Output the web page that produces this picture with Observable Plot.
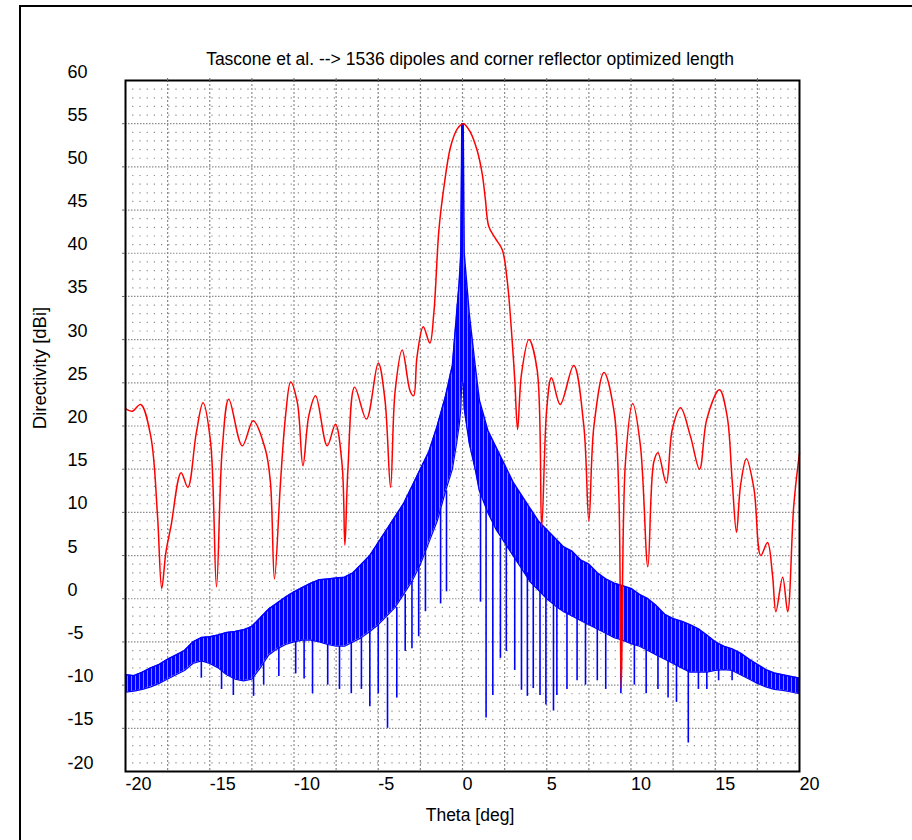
<!DOCTYPE html>
<html>
<head>
<meta charset="utf-8">
<script src="https://cdn.jsdelivr.net/npm/d3@7"></script>
<script src="https://cdn.jsdelivr.net/npm/@observablehq/plot@0.6"></script>
<style>
  html, body { margin: 0; padding: 0; background: #fff; }
  body { width: 912px; height: 840px; position: relative; overflow: hidden; font-family: "Liberation Sans", Arial, sans-serif; }
  #outer { position: absolute; left: 19px; top: 5px; width: 1000px; height: 1000px; border-left: 2px solid #000; border-top: 2px solid #000; }
  #chart { position: absolute; left: 0; top: 0; }
  .lbl { position: absolute; color: #000; white-space: nowrap; }
  #title { left: 0; width: 940px; top: 49px; text-align: center; font-size: 17.5px; }
  #xlabel { left: 0; width: 940px; top: 805px; text-align: center; font-size: 17.5px; }
  #ylabel { left: 40px; top: 368px; font-size: 18.5px; transform: translate(-50%, -50%) rotate(-90deg); }
</style>
</head>
<body>
<div id="outer"></div>
<div id="chart"></div>
<div class="lbl" id="title">Tascone et al. --&gt; 1536 dipoles and corner reflector optimized length</div>
<div class="lbl" id="xlabel">Theta [deg]</div>
<div class="lbl" id="ylabel">Directivity [dBi]</div>
<script>
// Tick labels
const xTicks = [-20, -15, -10, -5, 0, 5, 10, 15, 20];
const yTicks = [-20, -15, -10, -5, 0, 5, 10, 15, 20, 25, 30, 35, 40, 45, 50, 55, 60];
const xGrid = [-17.5, -15, -12.5, -10, -7.5, -5, -2.5, 0, 2.5, 5, 7.5, 10, 12.5, 15, 17.5];
const yMinor = [-19,-18,-17,-16,-14,-13,-12,-11,-9,-8,-7,-6,-4,-3,-2,-1,1,2,3,4,6,7,8,9,11,12,13,14,16,17,18,19,21,22,23,24,26,27,28,29,31,32,33,34,36,37,38,39,41,42,43,44,46,47,48,49,51,52,53,54,56,57,58,59];
const yMajor = [-15, -10, -5, 0, 5, 10, 15, 20, 25, 30, 35, 40, 45, 50, 55];

// Red series: corner reflector optimized length (theta deg, directivity dBi)
const redTheta = [-20.0,-19.6,-19.1,-18.5,-18.1,-17.85,-17.6,-17.3,-16.7,-16.3,-15.8,-15.4,-14.95,-14.6,-14.26,-13.87,-13.07,-12.42,-11.7,-11.4,-11.16,-10.8,-10.5,-10.2,-9.8,-9.47,-9.12,-8.72,-8.03,-7.54,-7.14,-6.98,-6.8,-6.4,-5.7,-5.0,-4.6,-4.27,-4.0,-3.58,-3.1,-2.9,-2.7,-2.33,-1.94,-1.7,-1.4,-1.1,-0.71,-0.31,0.05,0.47,0.87,1.17,1.36,1.56,1.96,2.36,2.65,2.9,3.1,3.27,3.5,3.94,4.43,4.7,5.0,5.28,5.8,6.6,7.2,7.5,7.8,8.4,9.0,9.28,9.42,9.67,10.1,10.56,11.0,11.35,11.6,12.09,12.45,12.94,13.53,14.07,14.5,15.25,15.7,16.0,16.26,16.5,16.85,17.3,17.7,18.1,18.4,18.6,19.0,19.3,19.66,20.0];
const redDir = [22.0,21.7,22.5,18.8,9.6,1.2,5.4,8.4,14.6,12.9,19.2,22.7,18.1,1.4,17.3,23.1,17.7,20.6,17.3,13.5,2.3,13.5,21.2,25.1,22.7,15.4,21.2,23.5,17.7,20.2,15.4,6.2,15.0,24.5,20.8,27.3,23.0,12.9,24.0,28.8,24.0,23.5,28.0,31.5,29.6,33.1,42.7,47.7,52.3,54.4,55.0,54.0,51.9,49.2,46.2,43.1,41.7,40.4,36.9,31.2,25.4,19.6,26.0,30.0,26.5,8.3,22.0,25.6,22.5,27.0,20.0,9.0,20.0,26.2,21.6,11.9,-10.4,15.8,22.6,17.7,3.7,15.8,16.9,13.4,19.6,22.1,18.8,15.0,20.8,24.2,21.2,13.8,7.7,13.1,16.2,12.7,5.0,6.5,2.7,-1.5,2.5,-1.5,10.8,16.9];

// Blue series: band envelope (upper / lower) of the dense pattern
const blueTheta = [-20,-19.5,-19,-18.5,-18,-17.5,-17,-16.5,-16,-15.5,-15,-14.5,-14,-13.5,-13,-12.5,-12,-11.5,-11,-10.5,-10,-9.5,-9,-8.5,-8,-7.5,-7,-6.5,-6,-5.5,-5,-4.5,-4,-3.5,-3,-2.5,-2,-1.5,-1,-0.6,-0.35,-0.2,-0.1,-0.04,0.04,0.1,0.25,0.4,0.75,1,1.5,2,2.5,3,3.5,4,4.5,5,5.5,6,6.5,7,7.5,8,8.5,9,9.5,10,10.5,11,11.5,12,12.5,13,13.5,14,14.5,15,15.5,16,16.5,17,17.5,18,18.5,19,19.5,20];
const blueHi = [-8.8,-8.9,-8.5,-8.0,-7.6,-7.0,-6.5,-6.0,-5.0,-4.5,-4.4,-4.2,-3.9,-3.8,-3.6,-3.2,-2.2,-1.2,-0.5,0.2,0.8,1.3,1.8,2.2,2.3,2.4,2.5,3.0,4.0,5.0,6.5,8.0,9.5,11.0,13.0,15.0,17.0,20.0,23.5,27.0,33.0,36.5,40.0,55.0,55.0,40.0,36.5,33.0,27.0,23.0,19.5,17.5,15.5,13.5,12.0,10.5,9.0,8.0,7.0,6.0,5.5,4.5,4.0,3.0,2.3,1.8,1.5,1.2,0.5,0.0,-0.8,-1.8,-2.3,-2.6,-3.0,-3.5,-4.2,-5.0,-5.5,-5.8,-6.3,-7.0,-7.6,-8.2,-8.6,-8.8,-9.0,-9.2];
const blueLo = [-10.8,-10.7,-10.5,-10.2,-9.8,-9.3,-8.8,-8.3,-7.5,-7.2,-7.5,-8.0,-8.8,-9.3,-9.5,-9.3,-8.0,-6.5,-5.8,-5.3,-5.0,-4.8,-4.8,-5.0,-5.3,-5.5,-5.5,-5.0,-4.5,-3.8,-3.0,-2.0,-1.0,0.5,2.0,4.0,6.5,9.0,12.5,15.0,18.0,20.0,22.0,25.0,25.0,22.0,20.0,18.0,15.0,12.5,10.0,8.0,6.5,5.0,3.5,2.0,1.0,0.0,-0.8,-1.5,-2.0,-2.5,-3.0,-3.5,-4.0,-4.5,-4.8,-5.2,-5.5,-6.0,-6.5,-7.0,-7.5,-8.0,-8.5,-8.5,-8.5,-8.3,-8.2,-8.3,-8.8,-9.3,-9.8,-10.2,-10.5,-10.6,-10.8,-11.0];

// Blue deep nulls (spikes below the band)
const spikeTheta = [-15.5,-14.3,-13.6,-12.4,-11.8,-10.9,-9.9,-9.4,-8.9,-8.0,-7.3,-6.6,-6.0,-5.5,-5.0,-4.45,-3.9,-3.4,-3.0,-2.6,-2.2,-1.3,-0.95,1.07,1.4,1.8,2.25,2.6,3.1,3.5,3.85,4.2,4.6,4.95,5.4,5.6,6.2,6.8,7.3,8.0,8.5,9.4,10.2,10.9,11.6,12.2,12.7,13.4,14.0,14.5,15.2,16.0];
const spikeLow = [-9.2,-10.5,-11.2,-11.3,-10,-9,-8.7,-9.3,-11,-10,-10.5,-11,-10.5,-12.5,-11,-15,-11.5,-6.1,-5.8,-4.4,-1.5,-0.6,0.8,-0.4,-13.8,-11.2,-6.9,-6.1,-8.3,-10.6,-11.3,-10.4,-11.2,-12.3,-13,-11.2,-10.5,-9.5,-10,-9.5,-10.5,-11,-10,-11,-10.5,-11.5,-12,-16.7,-10.5,-10.5,-9.5,-9.5];
const spikeTop = [-7.2,-8.2,-9,-9,-7.5,-5.6,-5,-4.8,-4.8,-5.3,-5.5,-5,-4.5,-3.8,-3,-2.2,-1,0.5,2,4,6,10.5,12.5,12.5,11,9.5,7,6.5,5,3.5,3,2,1,0,-0.5,-1,-1.6,-2.3,-2.7,-3.5,-4,-4.7,-5.3,-6,-6.6,-7.2,-7.5,-8.2,-8.5,-8.5,-8.2,-8.3];

const red = redTheta.map((t, i) => ({theta: t, d: redDir[i]}));
const blue = blueTheta.map((t, i) => ({theta: t, hi: blueHi[i], lo: blueLo[i]}));
const spikes = spikeTheta.map((t, i) => ({theta: t, lo: spikeLow[i], top: spikeTop[i]}));
const fmt = d => String(d);

const chart = Plot.plot({
  width: 912,
  height: 840,
  marginLeft: 125,
  marginRight: 113,
  marginTop: 80,
  marginBottom: 69,
  x: {domain: [-20, 20], label: null},
  y: {domain: [-20, 60], label: null},
  style: {fontFamily: "'Liberation Sans', Arial, sans-serif", fontSize: "18px", background: "transparent", color: "#000", overflow: "visible"},
  marks: [
    Plot.ruleY(yMinor, {stroke: "#8c8c8c", strokeDasharray: "1.2,6", strokeWidth: 1.2}),
    Plot.ruleY(yMajor, {stroke: "#8c8c8c", strokeDasharray: "1.5,1.5", strokeWidth: 1.2}),
    Plot.ruleX(xGrid, {stroke: "#8c8c8c", strokeDasharray: "2,2", strokeWidth: 1.2}),
    Plot.areaY(blue, {x: "theta", y1: "lo", y2: "hi", fill: "url(#bluestripes)", curve: "linear"}),
    Plot.line(blue, {x: "theta", y: "hi", stroke: "#0000ff", strokeWidth: 1.5}),
    Plot.line(blue, {x: "theta", y: "lo", stroke: "#0000ff", strokeWidth: 1.2}),
    Plot.ruleX(spikes, {x: "theta", y1: "lo", y2: "top", stroke: "#0000ff", strokeWidth: 1.6}),
    Plot.line(red, {x: "theta", y: "d", stroke: "#ff0000", strokeWidth: 1.5, curve: "catmull-rom"}),
    Plot.frame({stroke: "#000", strokeWidth: 2}),
    Plot.axisX(xGrid, {anchor: "top", tickSize: 3, tickFormat: () => "", stroke: "#666", label: null}),
    Plot.axisY(yMajor, {anchor: "left", tickSize: 3, tickFormat: () => "", stroke: "#666", label: null}),
    Plot.axisX(xTicks, {anchor: "bottom", tickSize: 0, tickPadding: 6, textAnchor: "start", lineAnchor: "top", tickFormat: fmt, fontSize: 18, label: null}),
    Plot.axisY(yTicks, {anchor: "left", tickSize: 0, tickPadding: 0, textAnchor: "start", lineAnchor: "bottom", dx: -58, dy: -3, tickFormat: fmt, fontSize: 18, label: null})
  ]
});
// stripe texture for the dense blue pattern
const ns = "http://www.w3.org/2000/svg";
const defs = document.createElementNS(ns, "defs");
const pat = document.createElementNS(ns, "pattern");
pat.setAttribute("id", "bluestripes");
pat.setAttribute("width", "4");
pat.setAttribute("height", "20");
pat.setAttribute("patternUnits", "userSpaceOnUse");
const r1 = document.createElementNS(ns, "rect");
r1.setAttribute("width", "4"); r1.setAttribute("height", "20"); r1.setAttribute("fill", "#0000ff");
const r2 = document.createElementNS(ns, "rect");
r2.setAttribute("x", "3"); r2.setAttribute("width", "1"); r2.setAttribute("height", "20"); r2.setAttribute("fill", "#8080ff");
pat.appendChild(r1); pat.appendChild(r2); defs.appendChild(pat);
chart.insertBefore(defs, chart.firstChild);
document.getElementById("chart").appendChild(chart);
</script>
</body>
</html>
